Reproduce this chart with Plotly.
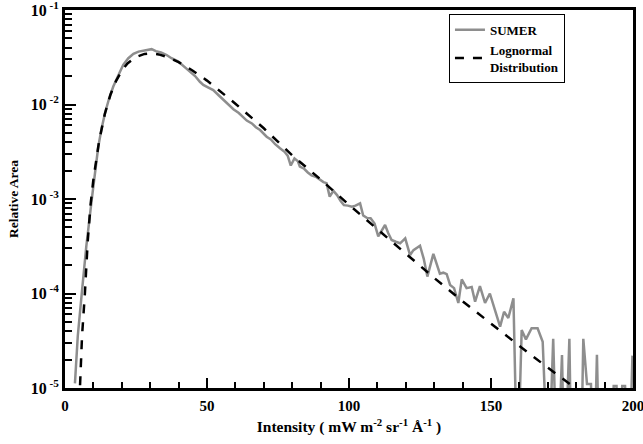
import plotly.graph_objects as go

# SUMER intensity histogram (1e-6 = empty bin, drawn below the axis)
sumer_x = [3.5, 4.5, 5.9, 7.5, 9.4, 10.5, 11.7, 12.9, 14.1, 15.5, 17.0, 18.8, 20.5, 22.3, 24.1,
           25.9, 27.6, 29.0, 30.5, 32.0, 33.8, 35.8, 37.5, 39.9, 42.0, 44.0, 45.8, 47.5, 48.7,
           50.5, 52.2, 54.0, 55.7, 57.5, 59.3, 61.2, 62.8, 64.0, 65.8, 67.2, 68.7, 70.0, 71.0,
           72.5, 74.0, 75.7, 77.3, 78.4, 79.5, 80.8, 82.0, 82.7, 84.2, 85.5, 86.8, 88.3, 89.8,
           91.0, 92.1, 93.2, 94.5, 95.8, 97.0, 98.2, 99.6, 101.0, 102.3, 103.9, 105.0, 106.3,
           107.6, 109.0, 110.3, 111.5, 112.7, 113.8, 115.0, 116.5, 118.0, 119.8, 121.5, 122.7,
           125.0, 126.3, 127.6, 129.7, 131.0, 132.0, 133.2, 134.4, 135.6, 137.0, 138.5, 139.7,
           141.4, 143.2, 144.4, 146.1, 147.9, 149.6, 151.4, 153.2, 154.6, 156.1, 157.9, 159.3,
           160.8, 162.3, 164.3, 166.4, 168.2, 170.2, 171.9, 173.3, 175.0, 175.9, 177.6, 178.4,
           181.6, 182.5, 183.8, 185.2, 186.2, 187.3, 188.3, 192.2, 193.2, 194.2, 195.2, 196.2,
           197.2, 198.6, 199.8]
sumer_y = [1.12e-5, 3.55e-5, 1.0e-4, 3.16e-4, 9.77e-4, 1.91e-3, 3.55e-3, 5.62e-3, 8.13e-3,
           0.0115, 0.0155, 0.0204, 0.0263, 0.0309, 0.0343, 0.0363, 0.0372, 0.0376, 0.0385,
           0.0367, 0.0355, 0.0334, 0.0309, 0.0284, 0.0251, 0.0222, 0.0200, 0.0174, 0.0161,
           0.0151, 0.0142, 0.0126, 0.0112, 0.0100, 8.91e-3, 8.13e-3, 7.41e-3, 6.76e-3, 6.31e-3,
           5.75e-3, 5.37e-3, 4.90e-3, 4.56e-3, 4.27e-3, 3.80e-3, 3.44e-3, 3.16e-3, 2.88e-3,
           2.26e-3, 2.69e-3, 2.51e-3, 2.20e-3, 2.09e-3, 1.91e-3, 1.78e-3, 1.72e-3, 1.58e-3,
           1.51e-3, 1.47e-3, 1.06e-3, 1.22e-3, 1.10e-3, 9.55e-4, 8.61e-4, 8.51e-4, 8.30e-4,
           8.51e-4, 8.99e-4, 6.68e-4, 6.31e-4, 6.25e-4, 5.50e-4, 4.03e-4, 4.68e-4, 5.31e-4,
           4.37e-4, 3.68e-4, 3.53e-4, 3.40e-4, 3.84e-4, 2.55e-4, 2.88e-4, 3.20e-4, 2.34e-4,
           1.51e-4, 2.63e-4, 2.00e-4, 1.62e-4, 1.66e-4, 1.60e-4, 1.23e-4, 1.14e-4, 7.94e-5,
           1.41e-4, 1.14e-4, 1.17e-4, 8.18e-5, 1.20e-4, 7.94e-5, 1.00e-4, 6.68e-5, 4.46e-5,
           6.41e-5, 5.50e-5, 8.89e-5, 1e-6, 4.11e-5, 3.27e-5, 4.29e-5, 4.29e-5, 3.09e-5, 1e-6,
           3.31e-5, 1e-6, 2.23e-5, 1e-6, 3.31e-5, 1e-6, 1e-6, 3.31e-5, 1.10e-5, 1.10e-5, 1e-6,
           2.24e-5, 1e-6, 1e-6, 1.05e-5, 1.05e-5, 1e-6, 1.05e-5, 1.05e-5, 1e-6, 2.2e-5]

# Lognormal fit curve
logn_x = [5.3, 6, 7, 8, 9, 10, 12, 14, 16, 18, 20, 22, 25, 28, 30, 33, 36, 40, 45, 50, 60, 70,
          80, 90, 100, 110, 120, 130, 140, 150, 160, 170, 178]
logn_y = [1.07e-5, 3.55e-5, 1.0e-4, 3.55e-4, 8.7e-4, 1.61e-3, 4.08e-3, 7.89e-3, 0.0127, 0.0178,
          0.0228, 0.0272, 0.0318, 0.0343, 0.0347, 0.0339, 0.0319, 0.0281, 0.0228, 0.0179,
          0.0102, 5.60e-3, 2.90e-3, 1.61e-3, 8.67e-4, 4.75e-4, 2.62e-4, 1.46e-4, 8.28e-5,
          4.76e-5, 2.79e-5, 1.64e-5, 1.09e-5]

# y tick labels
decades = [1e-5, 1e-4, 1e-3, 1e-2, 1e-1]
decade_labels = ["<b>10<sup> -5</sup></b>", "<b>10<sup> -4</sup></b>", "<b>10<sup> -3</sup></b>",
                 "<b>10<sup> -2</sup></b>", "<b>10<sup> -1</sup></b>"]

serif = "Liberation Serif"

fig = go.Figure()
fig.add_trace(go.Scatter(x=sumer_x, y=sumer_y, mode="lines", name="<b>SUMER</b>",
                         line=dict(color="#8e8e8e", width=2.5)))
fig.add_trace(go.Scatter(x=logn_x, y=logn_y, mode="lines", name="<b>Lognormal<br>Distribution</b>",
                         line=dict(color="black", width=2.5, dash="dash")))

minor_y = [k * d for d in decades[:-1] for k in range(2, 10)]

fig.update_xaxes(range=[0, 200], tickvals=[0, 50, 100, 150, 200],
                 ticktext=["<b>0</b>", "<b>50</b>", "<b>100</b>", "<b>150</b>", "<b>200</b>"],
                 ticks="inside", ticklen=10, automargin=False, ticklabelstandoff=2,
                 ticklabeloverflow="allow",
                 tickwidth=2, tickcolor="black", showline=True, linewidth=3, linecolor="black",
                 mirror=True, showgrid=False, zeroline=False,
                 minor=dict(dtick=10, ticks="inside", ticklen=6, tickwidth=2, tickcolor="black",
                            showgrid=False),
                 tickfont=dict(family=serif, size=15, color="black"),
                 title=dict(text="<b>Intensity ( mW m<sup>-2</sup> sr<sup>-1</sup> Å<sup>-1</sup> )</b>",
                            font=dict(family=serif, size=15.5, color="black"),
                            standoff=9))
fig.update_yaxes(type="log", range=[-5, -1], tickvals=decades, ticktext=decade_labels,
                 ticks="inside", ticklen=11, tickwidth=2, tickcolor="black", showline=True,
                 linewidth=3, linecolor="black", mirror=True, showgrid=False, zeroline=False,
                 automargin=False, ticklabeloverflow="allow",
                 minor=dict(tickvals=minor_y, ticks="inside", ticklen=7, tickwidth=2,
                            tickcolor="black", showgrid=False),
                 tickfont=dict(family=serif, size=16, color="black"),
                 title=dict(text="<b>Relative Area</b>",
                            font=dict(family=serif, size=13.5, color="black"),
                            standoff=9))

fig.update_layout(width=643, height=444, margin=dict(l=65, r=10, t=10, b=56),
                  plot_bgcolor="white", paper_bgcolor="white", showlegend=True,
                  legend=dict(x=0.676, y=0.99, xanchor="left", yanchor="top",
                              bgcolor="white", bordercolor="black", borderwidth=1,
                              font=dict(family=serif, size=13, color="black"),
                              tracegroupgap=0))

# the page body has a default 8px margin; drop it so the figure sits at the window corner
fig.write_html("out.html", config={"displayModeBar": False},
               post_script="document.body.style.margin='0px';")
